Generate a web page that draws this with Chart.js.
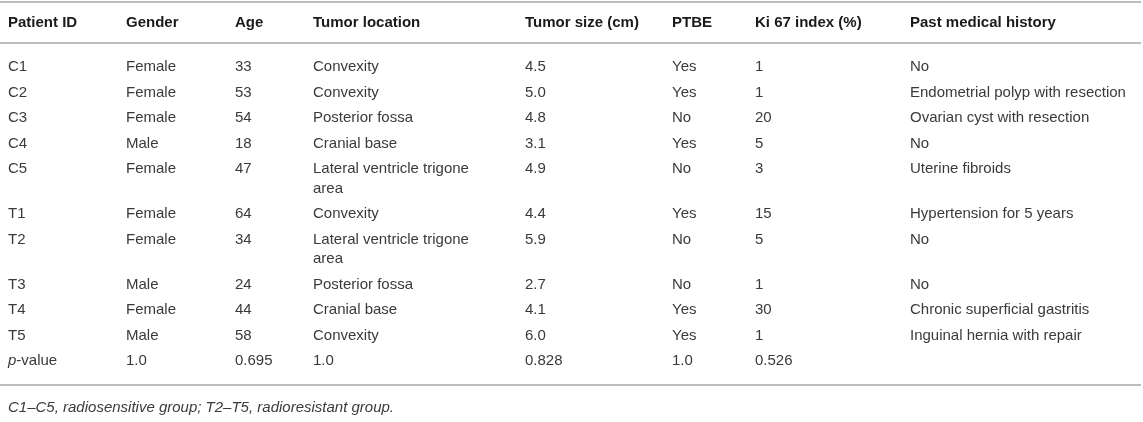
<!DOCTYPE html>
<html>
<head>
<meta charset="utf-8">
<script src="https://cdn.jsdelivr.net/npm/chart.js@4.4.1/dist/chart.umd.min.js"></script>
<style>
    html, body { margin: 0; padding: 0; background: #fff; }
    canvas { display: block; }
</style>
</head>
<body>
<canvas id="myChart" width="1143" height="422"></canvas>
<script>
// table content
var headers = ['Patient ID', 'Gender', 'Age', 'Tumor location', 'Tumor size (cm)', 'PTBE', 'Ki 67 index (%)', 'Past medical history'];
var patientIds = ['C1', 'C2', 'C3', 'C4', 'C5', 'T1', 'T2', 'T3', 'T4', 'T5'];
var genders = ['Female', 'Female', 'Female', 'Male', 'Female', 'Female', 'Female', 'Male', 'Female', 'Male'];
var ages = [33, 53, 54, 18, 47, 64, 34, 24, 44, 58];
var locations = ['Convexity', 'Convexity', 'Posterior fossa', 'Cranial base', 'Lateral ventricle trigone area',
    'Convexity', 'Lateral ventricle trigone area', 'Posterior fossa', 'Cranial base', 'Convexity'];
var tumorSizes = [4.5, 5.0, 4.8, 3.1, 4.9, 4.4, 5.9, 2.7, 4.1, 6.0];
var ptbe = ['Yes', 'Yes', 'No', 'Yes', 'No', 'Yes', 'No', 'No', 'Yes', 'Yes'];
var ki67 = [1, 1, 20, 5, 3, 15, 5, 1, 30, 1];
var pastHistory = ['No', 'Endometrial polyp with resection', 'Ovarian cyst with resection', 'No', 'Uterine fibroids',
    'Hypertension for 5 years', 'No', 'No', 'Chronic superficial gastritis', 'Inguinal hernia with repair'];
var pValues = ['', '1.0', '0.695', '1.0', '0.828', '1.0', '0.526', ''];
var footnote = 'C1\u2013C5, radiosensitive group; T2\u2013T5, radioresistant group.';

// layout (in canvas pixels, the scales run 1:1)
var W = 1143, H = 422;
var colStart = 8;
var colWidths = [118, 109, 78, 212, 147, 83, 155, 250];
var cellPad = 28;
var lineH = 19.5, rowPad = 6;
var topRule = 2, headerRule = 43, bodyGap = 11.25;
var FONT = '"Liberation Sans", Arial, Helvetica, sans-serif';
var bodyFont = '15px ' + FONT;
var headFont = 'bold 15px ' + FONT;
var textColor = '#3a3a3a';

document.addEventListener('DOMContentLoaded', function () {
    var ctx = document.getElementById('myChart').getContext('2d');

    // word wrap helper
    function wrap(text, maxW) {
        ctx.font = bodyFont;
        var words = String(text).split(' ');
        var lines = [], cur = '';
        words.forEach(function (w) {
            var test = cur ? cur + ' ' + w : w;
            if (cur && ctx.measureText(test).width > maxW) {
                lines.push(cur);
                cur = w;
            } else {
                cur = test;
            }
        });
        if (cur) lines.push(cur);
        return lines;
    }

    var colX = [];
    var acc = colStart;
    colWidths.forEach(function (w) { colX.push(acc); acc += w; });

    var bodyRows = patientIds.map(function (id, i) {
        return [id, genders[i], String(ages[i]), locations[i], tumorSizes[i].toFixed(1), ptbe[i], String(ki67[i]), pastHistory[i]];
    });

    // one dataset per column
    var datasets = headers.map(function (h) {
        return { label: h, data: [], pointRadius: 0, pointHoverRadius: 0 };
    });

    var headerY = (topRule + headerRule) / 2;
    headers.forEach(function (h, c) {
        datasets[c].data.push({ x: colX[c], y: headerY, lines: [h], bold: true });
    });

    var y = headerRule + bodyGap;
    bodyRows.forEach(function (row) {
        var wrapped = row.map(function (t, c) { return wrap(t, colWidths[c] - cellPad); });
        var n = Math.max.apply(null, wrapped.map(function (l) { return l.length; }));
        var first = y + rowPad / 2 + lineH / 2;
        wrapped.forEach(function (lines, c) {
            datasets[c].data.push({ x: colX[c], y: first, lines: lines });
        });
        y += n * lineH + rowPad;
    });

    var pY = y + rowPad / 2 + lineH / 2;
    datasets[0].data.push({ x: colX[0], y: pY, parts: [{ t: 'p', italic: true }, { t: '-value' }] });
    pValues.forEach(function (v, c) {
        if (v) datasets[c].data.push({ x: colX[c], y: pY, lines: [v] });
    });
    y += lineH + rowPad;
    var bottomRule = y + bodyGap;
    var noteY = bottomRule + 23;

    var tablePlugin = {
        id: 'tablePlugin',
        beforeDatasetsDraw: function (chart) {
            var c = chart.ctx, ys = chart.scales.y, xs = chart.scales.x;
            c.save();
            c.strokeStyle = '#bdbdbd';
            c.lineWidth = 2;
            [topRule, headerRule, bottomRule].forEach(function (v) {
                var py = ys.getPixelForValue(v);
                c.beginPath();
                c.moveTo(xs.getPixelForValue(0), py);
                c.lineTo(xs.getPixelForValue(W - 2), py);
                c.stroke();
            });
            c.restore();
        },
        afterDatasetsDraw: function (chart) {
            var c = chart.ctx, ys = chart.scales.y, xs = chart.scales.x;
            c.save();
            c.textBaseline = 'middle';
            c.textAlign = 'left';
            chart.data.datasets.forEach(function (ds, di) {
                var meta = chart.getDatasetMeta(di);
                meta.data.forEach(function (pt, i) {
                    var cell = ds.data[i];
                    if (cell.parts) {
                        var px = pt.x;
                        cell.parts.forEach(function (p) {
                            c.font = (p.italic ? 'italic ' : '') + bodyFont;
                            c.fillStyle = textColor;
                            c.fillText(p.t, px, pt.y);
                            px += c.measureText(p.t).width;
                        });
                        return;
                    }
                    c.font = cell.bold ? headFont : bodyFont;
                    c.fillStyle = cell.bold ? '#1a1a1a' : textColor;
                    cell.lines.forEach(function (l, k) {
                        c.fillText(l, pt.x, pt.y + k * lineH);
                    });
                });
            });
            c.font = 'italic 15px ' + FONT;
            c.fillStyle = textColor;
            c.fillText(footnote, xs.getPixelForValue(colStart), ys.getPixelForValue(noteY));
            c.restore();
        }
    };

    var myChart = new Chart(ctx, {
        type: 'scatter',
        data: { datasets: datasets },
        options: {
            responsive: false,
            animation: false,
            events: [],
            layout: { padding: 0 },
            plugins: { legend: { display: false }, tooltip: { enabled: false } },
            scales: {
                x: { type: 'linear', min: 0, max: W, display: false },
                y: { type: 'linear', min: 0, max: H, reverse: true, display: false }
            }
        },
        plugins: [tablePlugin]
    });
});
</script>
</body>
</html>
